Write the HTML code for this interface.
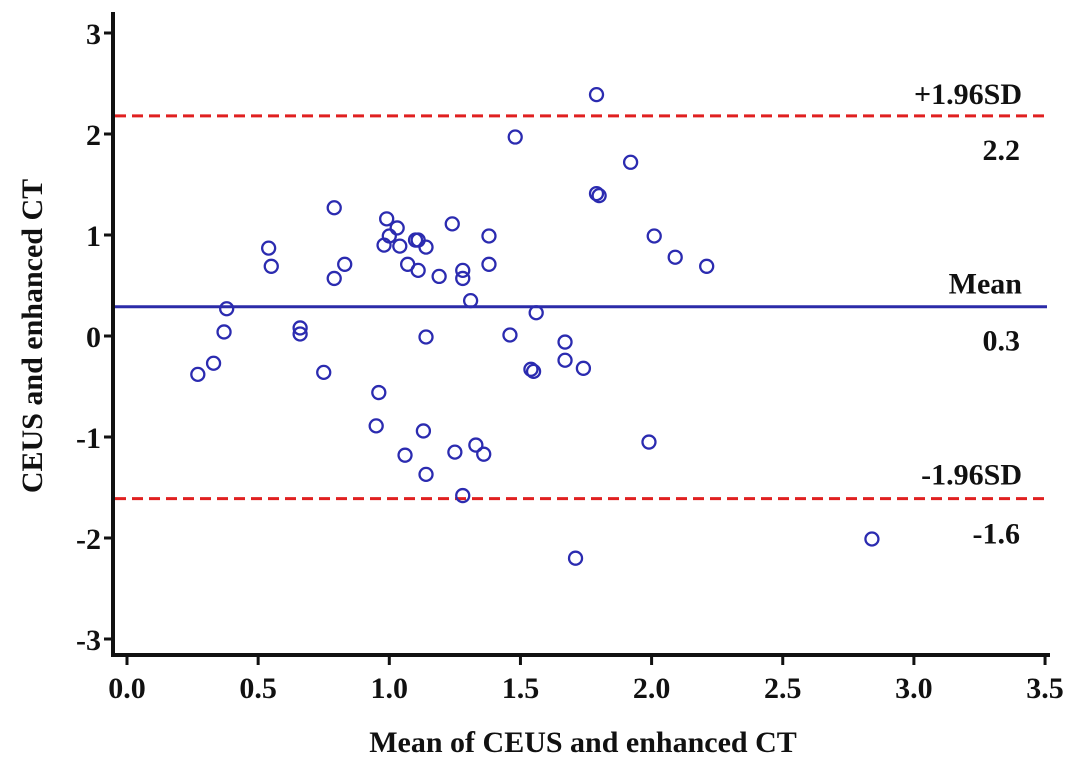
<!DOCTYPE html>
<html><head><meta charset="utf-8"><style>
body{margin:0;background:#fff}
svg text{font-family:"Liberation Serif",serif;font-weight:bold;fill:#111}
</style></head><body>
<svg id="c" width="1087" height="777"></svg>
<script>
const xVals=[0.27,0.33,0.38,0.37,0.54,0.55,0.66,0.66,0.75,0.79,0.79,0.83,0.96,0.95,0.99,0.98,1.0,1.03,1.04,1.07,1.06,1.1,1.11,1.11,1.14,1.14,1.13,1.14,1.19,1.24,1.25,1.28,1.28,1.28,1.31,1.33,1.36,1.38,1.38,1.46,1.48,1.54,1.55,1.56,1.67,1.67,1.71,1.74,1.79,1.79,1.8,1.92,1.99,2.01,2.09,2.21,2.84];
const yVals=[-0.38,-0.27,0.27,0.04,0.87,0.69,0.08,0.02,-0.36,1.27,0.57,0.71,-0.56,-0.89,1.16,0.9,0.99,1.07,0.89,0.71,-1.18,0.95,0.65,0.95,0.88,-0.01,-0.94,-1.37,0.59,1.11,-1.15,0.65,0.57,-1.58,0.35,-1.08,-1.17,0.71,0.99,0.01,1.97,-0.33,-0.35,0.23,-0.06,-0.24,-2.2,-0.32,2.39,1.41,1.39,1.72,-1.05,0.99,0.78,0.69,-2.01];
const xTicks=["0.0","0.5","1.0","1.5","2.0","2.5","3.0","3.5"];
const yTicks=[3,2,1,0,-1,-2,-3];
const meanVal=0.29, upperVal=2.18, lowerVal=-1.61;
const upperLabel="2.2", meanLabel="0.3", lowerLabel="-1.6";

const svg=document.getElementById('c'),NS="http://www.w3.org/2000/svg";
const X=v=>127+v*262.3, Y=v=>336-v*101;
function el(t,a,p){const e=document.createElementNS(NS,t);for(const k in a)e.setAttribute(k,a[k]);(p||svg).appendChild(e);return e;}
function txt(s,a){const e=el('text',a);e.textContent=s;return e;}

let ax=el('line',{x1:113,y1:12,x2:113,y2:656,stroke:'#111','stroke-width':4});

let bx=el('line',{x1:111,y1:655,x2:1050,y2:655,stroke:'#111','stroke-width':4});


yTicks.forEach(v=>{
 let t=el('line',{x1:104,y1:Y(v),x2:113,y2:Y(v),stroke:'#111','stroke-width':3});
 
 let l=txt(String(v),{x:101,y:Y(v)+11,'font-size':30,'text-anchor':'end'});
 
});
xTicks.forEach(s=>{
 const v=parseFloat(s);
 let t=el('line',{x1:X(v),y1:655,x2:X(v),y2:665,stroke:'#111','stroke-width':3});
 
 let l=txt(s,{x:X(v),y:698,'font-size':30,'text-anchor':'middle'});
 
});
let xt=txt("Mean of CEUS and enhanced CT",{x:583,y:752,'font-size':30,'text-anchor':'middle'});

let yt=txt("CEUS and enhanced CT",{x:0,y:0,'font-size':30,'text-anchor':'middle',transform:'translate(42,336) rotate(-90)'});


function hline(v,col,dash,name){
 let l=el('line',{x1:115,y1:Y(v),x2:1047,y2:Y(v),stroke:col,'stroke-width':3,'stroke-dasharray':dash||''});
 
}
hline(upperVal,'#e02020','11,6','upper-limit-line');
hline(meanVal,'#2b2ba8','','mean-line');
hline(lowerVal,'#e02020','11,6','lower-limit-line');
function lab(s,x,y,name){let t=txt(s,{x:x,y:y,'font-size':30,'text-anchor':'end'});}
lab("+1.96SD",1022,Y(upperVal)-12,'upper-limit-title');
lab(upperLabel,1020,Y(upperVal)+44,'upper-limit-value');
lab("Mean",1022,Y(meanVal)-13,'mean-title');
lab(meanLabel,1020,Y(meanVal)+44,'mean-value');
lab("-1.96SD",1022,Y(lowerVal)-14,'lower-limit-title');
lab(lowerLabel,1020,Y(lowerVal)+45,'lower-limit-value');

xVals.forEach((v,i)=>{
 let c=el('circle',{cx:X(v),cy:Y(yVals[i]),r:6.5,fill:'none',stroke:'#2b2bb0','stroke-width':2.3});
 
});
</script>
</body></html>
